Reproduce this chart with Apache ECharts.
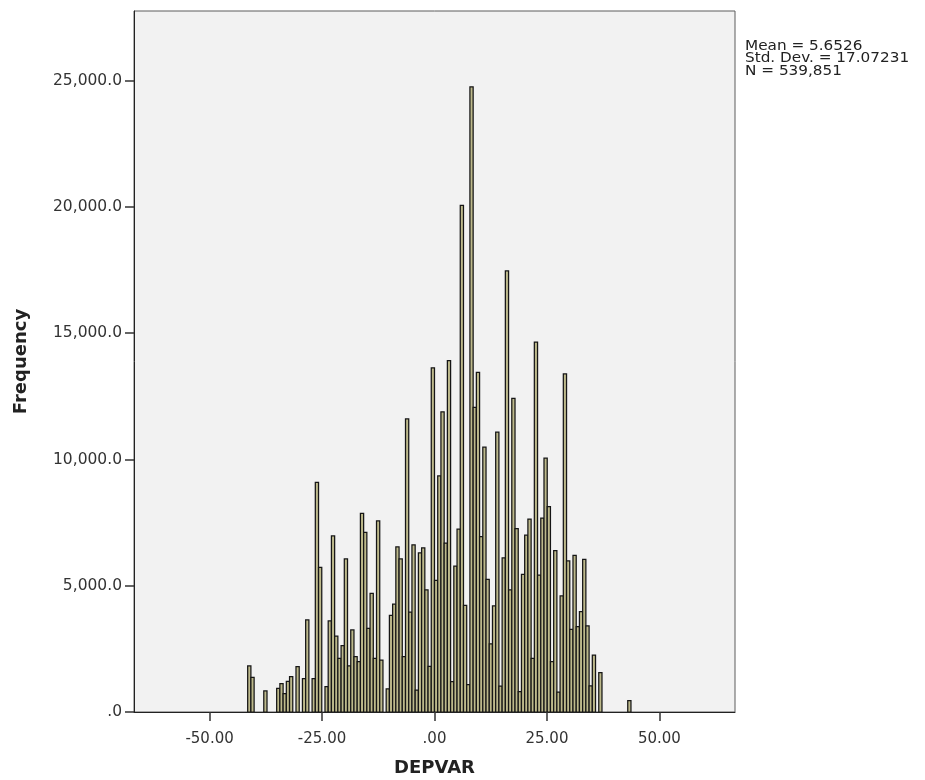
<!DOCTYPE html>
<html>
<head>
<meta charset="utf-8">
<script src="https://cdn.jsdelivr.net/npm/echarts@6/dist/echarts.min.js"></script>
<style>
  html, body { margin: 0; padding: 0; background: #ffffff; }
  #chart { width: 925px; height: 780px; }
</style>
</head>
<body>
<div id="chart"></div>
<script>
// Histogram bins (left edge of first bin and bin width, in DEPVAR units)
const binStart = -41.53;
const binWidth = 0.716;

// Frequency of each consecutive bin
const counts = [
  1822, 1374, 0, 0, 0, 832, 0, 0, 0, 937,
  1122, 726, 1215, 1399, 0, 1795, 0, 1320, 3644, 0,
  1320, 9096, 5729, 0, 1003, 3604, 6970, 3000, 2125, 2627,
  6059, 1822, 3248, 2191, 1993, 7868, 7116, 3314, 4700, 2125,
  7564, 2059, 0, 920, 3830, 4270, 6540, 6060, 2190, 11604,
  3960, 6620, 871, 6300, 6500, 4840, 1810, 13630, 5210, 9350,
  11890, 6685, 13910, 1200, 5780, 7245, 20060, 4220, 1080, 24760,
  12060, 13450, 6945, 10485, 5250, 2700, 4200, 11080, 1025, 6105,
  17465, 4840, 12420, 7260, 805, 5450, 7000, 7640, 2125, 14650,
  5425, 7680, 10050, 8130, 1995, 6390, 790, 4595, 13385, 5980,
  3275, 6205, 3380, 3975, 6045, 3410, 1030, 2257, 0, 1558,
  0, 0, 0, 0, 0, 0, 0, 0, 449
];

// Tick labels
const xTicks = [-50, -25, 0, 25, 50];
const yTicks = [0, 5000, 10000, 15000, 20000, 25000];

// Summary statistics text
const statLines = ['Mean = 5.6526', 'Std. Dev. = 17.07231', 'N = 539,851'];

const xTitle = 'DEPVAR';
const yTitle = 'Frequency';

const binData = counts
  .map((c, i) => [binStart + i * binWidth, binStart + (i + 1) * binWidth, c])
  .filter(d => d[2] > 0);

const FONT = 'DejaVu Sans';

const chart = echarts.init(document.getElementById('chart'), null, { renderer: 'canvas' });

chart.setOption({
  animation: false,
  backgroundColor: '#ffffff',
  grid: {
    left: 134, right: 190, top: 11, bottom: 68,
    containLabel: false,
    outerBoundsMode: 'none',
    show: true,
    backgroundColor: '#f2f2f2',
    borderColor: '#5c5c5c',
    borderWidth: 1
  },
  xAxis: {
    type: 'value',
    min: -66.8,
    max: 66.8,
    name: xTitle,
    nameLocation: 'middle',
    nameGap: 47,
    nameTextStyle: { fontFamily: FONT, fontWeight: 'bold', fontSize: 18, color: '#222' },
    axisLine: { show: true, onZero: false, lineStyle: { color: '#222', width: 1 } },
    axisTick: { show: true, length: 9, customValues: xTicks, lineStyle: { color: '#333', width: 1.5 } },
    axisLabel: {
      customValues: xTicks,
      margin: 20,
      fontFamily: FONT,
      fontSize: 15,
      color: '#333',
      formatter: v => (v < 0 ? '-' : '') + Math.abs(v).toFixed(2).replace(/^0/, '')
    },
    splitLine: { show: false }
  },
  yAxis: {
    type: 'value',
    min: 0,
    max: 27760,
    name: yTitle,
    nameLocation: 'middle',
    nameRotate: 90,
    nameGap: 104,
    nameTextStyle: { fontFamily: FONT, fontWeight: 'bold', fontSize: 18, color: '#222' },
    axisLine: { show: true, onZero: false, lineStyle: { color: '#222', width: 1 } },
    axisTick: { show: true, length: 9, customValues: yTicks, lineStyle: { color: '#333', width: 1.5 } },
    axisLabel: {
      customValues: yTicks,
      margin: 12,
      fontFamily: FONT,
      fontSize: 15.5,
      color: '#333',
      formatter: v => v === 0 ? '.0' : v.toLocaleString('en-US') + '.0'
    },
    splitLine: { show: false }
  },
  series: [{
    type: 'custom',
    clip: true,
    encode: { x: [0, 1], y: 2 },
    data: binData,
    renderItem: function (params, api) {
      const p0 = api.coord([api.value(0), api.value(2)]);
      const p1 = api.coord([api.value(1), 0]);
      return {
        type: 'rect',
        shape: { x: p0[0], y: p0[1], width: p1[0] - p0[0], height: p1[1] - p0[1] },
        style: { fill: '#bdb98b', stroke: '#161616', lineWidth: 1.25 }
      };
    }
  }],
  graphic: [{
    type: 'text',
    left: 745,
    top: 39,
    scaleX: 1.13,
    style: {
      text: statLines.join('\n'),
      fontFamily: FONT,
      fontSize: 13.5,
      lineHeight: 12.5,
      fill: '#222'
    }
  }]
});
</script>
</body>
</html>
